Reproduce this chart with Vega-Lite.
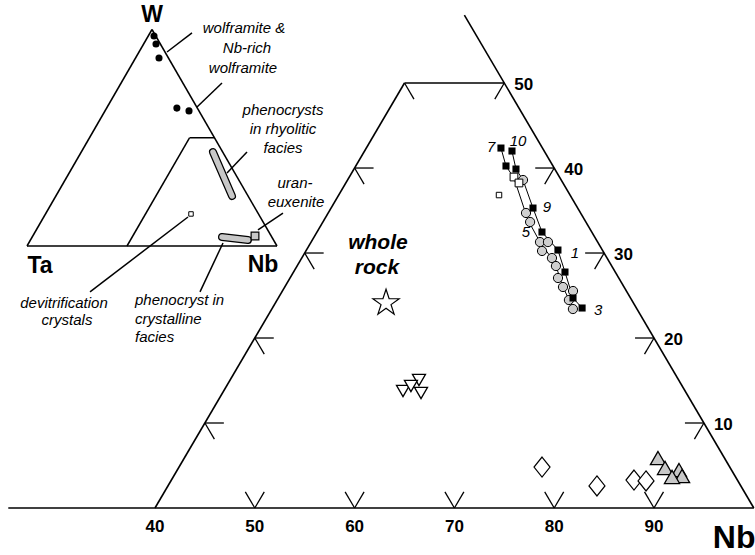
{
  "$schema": "https://vega.github.io/schema/vega-lite/v6.json",
  "width": 755,
  "height": 555,
  "padding": 0,
  "autosize": {"type": "none"},
  "background": "white",
  "config": {"view": {"stroke": null}, "font": "Liberation Sans"},
  "datasets": {
    "main": [
      {"kind": "seg", "Nb": 25.3, "W": 0, "Nb2": 100, "W2": 0},
      {"kind": "seg", "Nb": 40, "W": 0, "Nb2": 40, "W2": 50},
      {"kind": "seg", "Nb": 40, "W": 50, "Nb2": 50, "W2": 50},
      {"kind": "seg", "Nb": 100, "W": 0, "Nb2": 42, "W2": 58},
      {"kind": "tick", "Nb": 50, "W": 0, "Nb2": 50, "W2": 1.9},
      {"kind": "tick", "Nb": 50, "W": 0, "Nb2": 48.1, "W2": 1.9},
      {"kind": "tick", "Nb": 60, "W": 0, "Nb2": 60, "W2": 1.9},
      {"kind": "tick", "Nb": 60, "W": 0, "Nb2": 58.1, "W2": 1.9},
      {"kind": "tick", "Nb": 70, "W": 0, "Nb2": 70, "W2": 1.9},
      {"kind": "tick", "Nb": 70, "W": 0, "Nb2": 68.1, "W2": 1.9},
      {"kind": "tick", "Nb": 80, "W": 0, "Nb2": 80, "W2": 1.9},
      {"kind": "tick", "Nb": 80, "W": 0, "Nb2": 78.1, "W2": 1.9},
      {"kind": "tick", "Nb": 90, "W": 0, "Nb2": 90, "W2": 1.9},
      {"kind": "tick", "Nb": 90, "W": 0, "Nb2": 88.1, "W2": 1.9},
      {"kind": "tick", "Nb": 90, "W": 10, "Nb2": 88.1, "W2": 10},
      {"kind": "tick", "Nb": 90, "W": 10, "Nb2": 90, "W2": 8.1},
      {"kind": "tick", "Nb": 80, "W": 20, "Nb2": 78.1, "W2": 20},
      {"kind": "tick", "Nb": 80, "W": 20, "Nb2": 80, "W2": 18.1},
      {"kind": "tick", "Nb": 70, "W": 30, "Nb2": 68.1, "W2": 30},
      {"kind": "tick", "Nb": 70, "W": 30, "Nb2": 70, "W2": 28.1},
      {"kind": "tick", "Nb": 60, "W": 40, "Nb2": 58.1, "W2": 40},
      {"kind": "tick", "Nb": 60, "W": 40, "Nb2": 60, "W2": 38.1},
      {"kind": "tick", "Nb": 50, "W": 50, "Nb2": 50, "W2": 48.1},
      {"kind": "tick", "Nb": 40, "W": 10, "Nb2": 41.9, "W2": 10},
      {"kind": "tick", "Nb": 40, "W": 10, "Nb2": 41.9, "W2": 8.1},
      {"kind": "tick", "Nb": 40, "W": 20, "Nb2": 41.9, "W2": 20},
      {"kind": "tick", "Nb": 40, "W": 20, "Nb2": 41.9, "W2": 18.1},
      {"kind": "tick", "Nb": 40, "W": 30, "Nb2": 41.9, "W2": 30},
      {"kind": "tick", "Nb": 40, "W": 30, "Nb2": 41.9, "W2": 28.1},
      {"kind": "tick", "Nb": 40, "W": 40, "Nb2": 41.9, "W2": 40},
      {"kind": "tick", "Nb": 40, "W": 40, "Nb2": 41.9, "W2": 38.1},
      {"kind": "tick", "Nb": 40, "W": 50, "Nb2": 41.9, "W2": 48.1},
      {"kind": "blab", "Nb": 40, "W": 0, "label": "40"},
      {"kind": "blab", "Nb": 50, "W": 0, "label": "50"},
      {"kind": "blab", "Nb": 60, "W": 0, "label": "60"},
      {"kind": "blab", "Nb": 70, "W": 0, "label": "70"},
      {"kind": "blab", "Nb": 80, "W": 0, "label": "80"},
      {"kind": "blab", "Nb": 90, "W": 0, "label": "90"},
      {"kind": "rlab", "Nb": 90, "W": 10, "label": "10"},
      {"kind": "rlab", "Nb": 80, "W": 20, "label": "20"},
      {"kind": "rlab", "Nb": 70, "W": 30, "label": "30"},
      {"kind": "rlab", "Nb": 60, "W": 40, "label": "40"},
      {"kind": "rlab", "Nb": 50, "W": 50, "label": "50"},
      {"kind": "big", "Nb": 99.8, "W": -3.53, "label": "Nb"},
      {"kind": "wr", "Nb": 46.75, "W": 31.18, "label": "whole"},
      {"kind": "wr", "Nb": 48.12, "W": 28.24, "label": "rock"},
      {"kind": "num", "Nb": 52.44, "W": 42.47, "label": "7"},
      {"kind": "num", "Nb": 54.78, "W": 43.18, "label": "10"},
      {"kind": "num", "Nb": 61.57, "W": 35.41, "label": "9"},
      {"kind": "num", "Nb": 60.94, "W": 32.47, "label": "5"},
      {"kind": "num", "Nb": 67.08, "W": 30.0, "label": "1"},
      {"kind": "num", "Nb": 72.75, "W": 23.29, "label": "3"},
      {"kind": "ln", "series": "a", "i": 1, "Nb": 53.49, "W": 42.35},
      {"kind": "ln", "series": "a", "i": 2, "Nb": 55.05, "W": 40.24},
      {"kind": "ln", "series": "a", "i": 3, "Nb": 56.56, "W": 38.82},
      {"kind": "ln", "series": "a", "i": 4, "Nb": 60.43, "W": 33.88},
      {"kind": "ln", "series": "a", "i": 5, "Nb": 62.93, "W": 31.29},
      {"kind": "ln", "series": "a", "i": 6, "Nb": 65.67, "W": 28.82},
      {"kind": "ln", "series": "a", "i": 7, "Nb": 67.88, "W": 26.0},
      {"kind": "ln", "series": "a", "i": 8, "Nb": 70.12, "W": 23.53},
      {"kind": "ln", "series": "b", "i": 1, "Nb": 54.77, "W": 42.0},
      {"kind": "ln", "series": "b", "i": 2, "Nb": 56.23, "W": 39.88},
      {"kind": "ln", "series": "b", "i": 3, "Nb": 57.58, "W": 38.59},
      {"kind": "ln", "series": "b", "i": 4, "Nb": 60.23, "W": 35.29},
      {"kind": "ln", "series": "b", "i": 5, "Nb": 62.54, "W": 32.47},
      {"kind": "ln", "series": "b", "i": 6, "Nb": 65.20, "W": 30.35},
      {"kind": "ln", "series": "b", "i": 7, "Nb": 67.20, "W": 27.76},
      {"kind": "ln", "series": "b", "i": 8, "Nb": 69.53, "W": 24.71},
      {"kind": "ln", "series": "b", "i": 9, "Nb": 71.03, "W": 23.53},
      {"kind": "circ", "Nb": 57.58, "W": 38.59},
      {"kind": "circ", "Nb": 59.82, "W": 34.71},
      {"kind": "circ", "Nb": 60.76, "W": 33.65},
      {"kind": "circ", "Nb": 62.93, "W": 31.29},
      {"kind": "circ", "Nb": 63.73, "W": 31.29},
      {"kind": "circ", "Nb": 63.66, "W": 30.24},
      {"kind": "circ", "Nb": 65.07, "W": 29.41},
      {"kind": "circ", "Nb": 65.94, "W": 28.47},
      {"kind": "circ", "Nb": 66.85, "W": 27.06},
      {"kind": "circ", "Nb": 67.88, "W": 26.0},
      {"kind": "circ", "Nb": 69.12, "W": 25.53},
      {"kind": "circ", "Nb": 69.24, "W": 24.47},
      {"kind": "circ", "Nb": 70.17, "W": 23.41},
      {"kind": "osq", "Nb": 56.5, "W": 38.94},
      {"kind": "osq", "Nb": 57.35, "W": 38.24},
      {"kind": "osqs", "Nb": 56.06, "W": 36.82},
      {"kind": "sq", "Nb": 53.49, "W": 42.35},
      {"kind": "sq", "Nb": 54.77, "W": 42.0},
      {"kind": "sq", "Nb": 55.05, "W": 40.24},
      {"kind": "sq", "Nb": 56.23, "W": 39.88},
      {"kind": "sq", "Nb": 60.23, "W": 35.29},
      {"kind": "sq", "Nb": 62.54, "W": 32.47},
      {"kind": "sq", "Nb": 65.20, "W": 30.35},
      {"kind": "sq", "Nb": 67.20, "W": 27.76},
      {"kind": "sq", "Nb": 69.53, "W": 24.71},
      {"kind": "sq", "Nb": 71.03, "W": 23.53},
      {"kind": "star", "Nb": 51.09, "W": 24.12},
      {"kind": "tdn", "Nb": 57.97, "W": 13.76},
      {"kind": "tdn", "Nb": 58.92, "W": 15.06},
      {"kind": "tdn", "Nb": 58.47, "W": 14.35},
      {"kind": "tdn", "Nb": 59.89, "W": 13.53},
      {"kind": "dia", "Nb": 76.37, "W": 4.82},
      {"kind": "dia", "Nb": 82.99, "W": 2.59},
      {"kind": "dia", "Nb": 86.35, "W": 3.29},
      {"kind": "dia", "Nb": 87.61, "W": 3.18},
      {"kind": "tup", "Nb": 87.46, "W": 5.88},
      {"kind": "tup", "Nb": 88.75, "W": 4.71},
      {"kind": "tup", "Nb": 90.27, "W": 4.47},
      {"kind": "tup", "Nb": 90.93, "W": 3.76},
      {"kind": "tup", "Nb": 89.98, "W": 3.65}
    ],
    "inset": [
      {"kind": "seg", "Nb": 0, "W": 0, "Nb2": 100, "W2": 0},
      {"kind": "seg", "Nb": 100, "W": 0, "Nb2": 0, "W2": 100},
      {"kind": "seg", "Nb": 0, "W": 100, "Nb2": 0, "W2": 0},
      {"kind": "seg", "Nb": 40, "W": 0, "Nb2": 40, "W2": 50},
      {"kind": "seg", "Nb": 40, "W": 50, "Nb2": 50, "W2": 50},
      {"kind": "lead", "Nb": 11.2, "W": 89.6, "Nb2": 16.8, "W2": 98.4},
      {"kind": "lead", "Nb": 35.9, "W": 64.2, "Nb2": 40.35, "W2": 75.3},
      {"kind": "lead", "Nb": 63.15, "W": 33.7, "Nb2": 66.3, "W2": 43.4},
      {"kind": "lead", "Nb": 88.7, "W": 7.4, "Nb2": 94.8, "W2": 15.2},
      {"kind": "lead", "Nb": 57.7, "W": 13.4, "Nb2": 35.8, "W2": -21.2},
      {"kind": "lead", "Nb": 77.7, "W": 1.4, "Nb2": 79.8, "W2": -21.2},
      {"kind": "cap", "Nb": 52.7, "W": 43.4, "Nb2": 70.45, "W2": 23.1},
      {"kind": "cap", "Nb": 75.9, "W": 4.2, "Nb2": 87.0, "W2": 2.8},
      {"kind": "dot", "Nb": 2.3, "W": 97.0},
      {"kind": "dot", "Nb": 4.95, "W": 93.3},
      {"kind": "dot", "Nb": 9.4, "W": 86.8},
      {"kind": "dot", "Nb": 28.1, "W": 63.7},
      {"kind": "dot", "Nb": 33.6, "W": 62.4},
      {"kind": "uran", "Nb": 88.9, "W": 4.6},
      {"kind": "devit", "Nb": 58.2, "W": 14.8},
      {"kind": "vlab", "Nb": -3.35, "W": 106.7, "label": "W"},
      {"kind": "vlab", "Nb": 9.8, "W": -9.24, "label": "Ta"},
      {"kind": "vlab", "Nb": 98.8, "W": -8.78, "label": "Nb"},
      {"kind": "annc", "Nb": 36.45, "W": 100.7, "label": "wolframite &"},
      {"kind": "annc", "Nb": 42.25, "W": 91.5, "label": "Nb-rich"},
      {"kind": "annc", "Nb": 45.3, "W": 82.2, "label": "wolframite"},
      {"kind": "annc", "Nb": 71.0, "W": 62.8, "label": "phenocrysts"},
      {"kind": "annc", "Nb": 75.4, "W": 54.0, "label": "in rhyolitic"},
      {"kind": "annc", "Nb": 79.75, "W": 45.3, "label": "facies"},
      {"kind": "annc", "Nb": 92.65, "W": 29.1, "label": "uran-"},
      {"kind": "annc", "Nb": 97.45, "W": 20.3, "label": "euxenite"},
      {"kind": "annc", "Nb": 27.95, "W": -26.3, "label": "devitrification"},
      {"kind": "annc", "Nb": 33.1, "W": -34.2, "label": "crystals"},
      {"kind": "annl", "Nb": 55.65, "W": -24.9, "label": "phenocryst in"},
      {"kind": "annl", "Nb": 60.05, "W": -33.7, "label": "crystalline"},
      {"kind": "annl", "Nb": 64.2, "W": -42.0, "label": "facies"}
    ]
  },
  "layer": [
    {
      "data": {"name": "main"},
      "transform": [
        {"calculate": "datum.Nb + datum.W / 2", "as": "X"},
        {"calculate": "datum.W * 0.866", "as": "Y"},
        {"calculate": "datum.Nb2 + datum.W2 / 2", "as": "X2"},
        {"calculate": "datum.W2 * 0.866", "as": "Y2"}
      ],
      "encoding": {
        "x": {"field": "X", "type": "quantitative", "scale": {"domain": [24.47, 100.12], "nice": false, "zero": false}, "axis": null},
        "y": {"field": "Y", "type": "quantitative", "scale": {"domain": [-4.79, 51.76], "nice": false, "zero": false}, "axis": null}
      },
      "layer": [
        {"transform": [{"filter": "datum.kind === 'seg'"}], "mark": {"type": "rule", "color": "black", "strokeWidth": 1.6}, "encoding": {"x2": {"field": "X2"}, "y2": {"field": "Y2"}}},
        {"transform": [{"filter": "datum.kind === 'tick'"}], "mark": {"type": "rule", "color": "black", "strokeWidth": 1.3}, "encoding": {"x2": {"field": "X2"}, "y2": {"field": "Y2"}}},
        {"transform": [{"filter": "datum.kind === 'ln'"}], "mark": {"type": "line", "color": "black", "strokeWidth": 1}, "encoding": {"detail": {"field": "series"}, "order": {"field": "i", "type": "quantitative"}}},
        {"transform": [{"filter": "datum.kind === 'circ'"}], "mark": {"type": "point", "shape": "circle", "filled": true, "fill": "#cfcfcf", "stroke": "black", "strokeWidth": 1, "size": 85, "opacity": 1}},
        {"transform": [{"filter": "datum.kind === 'osq'"}], "mark": {"type": "point", "shape": "square", "filled": true, "fill": "white", "stroke": "black", "strokeWidth": 1, "size": 60, "opacity": 1}},
        {"transform": [{"filter": "datum.kind === 'osqs'"}], "mark": {"type": "point", "shape": "square", "filled": true, "fill": "white", "stroke": "black", "strokeWidth": 1, "size": 30, "opacity": 1}},
        {"transform": [{"filter": "datum.kind === 'sq'"}], "mark": {"type": "point", "shape": "square", "filled": true, "color": "black", "size": 50, "opacity": 1}},
        {"transform": [{"filter": "datum.kind === 'star'"}], "mark": {"type": "point", "shape": "M0,-1L0.2245,-0.309L0.951,-0.309L0.3633,0.118L0.5878,0.809L0,0.382L-0.5878,0.809L-0.3633,0.118L-0.951,-0.309L-0.2245,-0.309Z", "filled": true, "fill": "white", "stroke": "black", "strokeWidth": 1.2, "size": 760, "opacity": 1}},
        {"transform": [{"filter": "datum.kind === 'tdn'"}], "mark": {"type": "point", "shape": "triangle-down", "filled": true, "fill": "white", "stroke": "black", "strokeWidth": 1.3, "size": 170, "opacity": 1}},
        {"transform": [{"filter": "datum.kind === 'dia'"}], "mark": {"type": "point", "shape": "M0,-1L0.8,0L0,1L-0.8,0Z", "filled": true, "fill": "white", "stroke": "black", "strokeWidth": 1.2, "size": 400, "opacity": 1}},
        {"transform": [{"filter": "datum.kind === 'tup'"}], "mark": {"type": "point", "shape": "triangle-up", "filled": true, "fill": "#c8c8c8", "stroke": "black", "strokeWidth": 1.3, "size": 230, "opacity": 1}},
        {"transform": [{"filter": "datum.kind === 'blab'"}], "mark": {"type": "text", "fontSize": 17, "fontWeight": "bold", "align": "center", "baseline": "middle", "dy": 19, "color": "black"}, "encoding": {"text": {"field": "label"}}},
        {"transform": [{"filter": "datum.kind === 'rlab'"}], "mark": {"type": "text", "fontSize": 17, "fontWeight": "bold", "align": "left", "baseline": "middle", "dx": 10, "dy": 2, "color": "black"}, "encoding": {"text": {"field": "label"}}},
        {"transform": [{"filter": "datum.kind === 'big'"}], "mark": {"type": "text", "fontSize": 32, "fontWeight": "bold", "align": "center", "baseline": "middle", "color": "black"}, "encoding": {"text": {"field": "label"}}},
        {"transform": [{"filter": "datum.kind === 'wr'"}], "mark": {"type": "text", "fontSize": 21, "fontWeight": "bold", "fontStyle": "italic", "align": "center", "baseline": "middle", "color": "black"}, "encoding": {"text": {"field": "label"}}},
        {"transform": [{"filter": "datum.kind === 'num'"}], "mark": {"type": "text", "fontSize": 15, "fontStyle": "italic", "align": "center", "baseline": "middle", "color": "black"}, "encoding": {"text": {"field": "label"}}}
      ]
    },
    {
      "data": {"name": "inset"},
      "transform": [
        {"calculate": "datum.Nb + datum.W / 2", "as": "X"},
        {"calculate": "datum.W * 0.866", "as": "Y"},
        {"calculate": "datum.Nb2 + datum.W2 / 2", "as": "X2"},
        {"calculate": "datum.W2 * 0.866", "as": "Y2"}
      ],
      "encoding": {
        "x": {"field": "X", "type": "quantitative", "scale": {"domain": [-10.8, 291.2], "nice": false, "zero": false}, "axis": null},
        "y": {"field": "Y", "type": "quantitative", "scale": {"domain": [-123.6, 98.4], "nice": false, "zero": false}, "axis": null}
      },
      "layer": [
        {"transform": [{"filter": "datum.kind === 'seg'"}], "mark": {"type": "rule", "color": "black", "strokeWidth": 1.5}, "encoding": {"x2": {"field": "X2"}, "y2": {"field": "Y2"}}},
        {"transform": [{"filter": "datum.kind === 'lead'"}], "mark": {"type": "rule", "color": "black", "strokeWidth": 1.5}, "encoding": {"x2": {"field": "X2"}, "y2": {"field": "Y2"}}},
        {"transform": [{"filter": "datum.kind === 'cap'"}], "mark": {"type": "rule", "color": "black", "strokeWidth": 8, "strokeCap": "round"}, "encoding": {"x2": {"field": "X2"}, "y2": {"field": "Y2"}}},
        {"transform": [{"filter": "datum.kind === 'cap'"}], "mark": {"type": "rule", "color": "#c8c8c8", "strokeWidth": 5.5, "strokeCap": "round"}, "encoding": {"x2": {"field": "X2"}, "y2": {"field": "Y2"}}},
        {"transform": [{"filter": "datum.kind === 'dot'"}], "mark": {"type": "point", "shape": "circle", "filled": true, "color": "black", "size": 50, "opacity": 1}},
        {"transform": [{"filter": "datum.kind === 'uran'"}], "mark": {"type": "point", "shape": "square", "filled": true, "fill": "#c8c8c8", "stroke": "black", "strokeWidth": 1.2, "size": 60, "opacity": 1}},
        {"transform": [{"filter": "datum.kind === 'devit'"}], "mark": {"type": "point", "shape": "square", "filled": true, "fill": "white", "stroke": "black", "strokeWidth": 1, "size": 20, "opacity": 1}},
        {"transform": [{"filter": "datum.kind === 'vlab'"}], "mark": {"type": "text", "fontSize": 23, "fontWeight": "bold", "align": "center", "baseline": "middle", "color": "black"}, "encoding": {"text": {"field": "label"}}},
        {"transform": [{"filter": "datum.kind === 'annc'"}], "mark": {"type": "text", "fontSize": 15, "fontStyle": "italic", "align": "center", "baseline": "middle", "color": "black"}, "encoding": {"text": {"field": "label"}}},
        {"transform": [{"filter": "datum.kind === 'annl'"}], "mark": {"type": "text", "fontSize": 15, "fontStyle": "italic", "align": "left", "baseline": "middle", "color": "black"}, "encoding": {"text": {"field": "label"}}}
      ]
    }
  ],
  "resolve": {"scale": {"x": "independent", "y": "independent"}}
}
